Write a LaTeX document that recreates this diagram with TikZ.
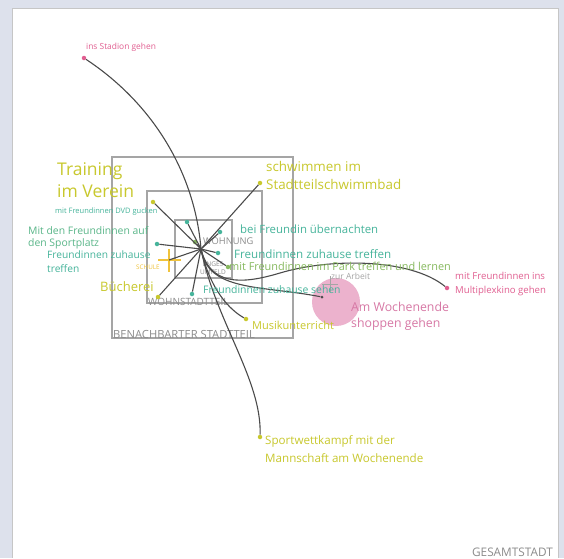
\documentclass[tikz,border=0pt]{standalone}
\usepackage{fontspec}
\setmainfont{Open Sans}
\usetikzlibrary{positioning}
\definecolor{panelblue}{RGB}{221,225,236}
\definecolor{sunyellow}{RGB}{200,200,45}
\definecolor{friendteal}{RGB}{70,180,155}
\definecolor{parkgreen}{RGB}{135,185,95}
\definecolor{kinopink}{RGB}{225,95,145}
\definecolor{shopmauve}{RGB}{215,120,165}
\definecolor{blobpink}{RGB}{236,178,205}
\definecolor{schoolorange}{RGB}{240,195,60}
\definecolor{zonegray}{RGB}{165,165,165}
\definecolor{wirecolor}{RGB}{75,75,75}

\begin{document}
\begin{tikzpicture}[x=1pt, y=-1pt,
  dot/.style={circle, fill, inner sep=0pt, minimum size=4.5pt},
  txt/.style={inner sep=0pt, anchor=west, align=left},
  wire/.style={color=wirecolor, line width=1.1pt},
  zone/.style={draw=zonegray, line width=1.3pt},
  zonetxt/.style={inner sep=0pt, color=zonegray!85!black}]
\useasboundingbox (0,0) rectangle (564,558);
%
\fill[panelblue] (0,0) rectangle (564,558);
\fill[white] (12,8) rectangle (558,558);
\draw[gray!45] (12,558) -- (12,8) -- (558,8) -- (558,558);

%
\draw[zone] (112,157) rectangle (293,338);
\draw[zone] (147,191) rectangle (262,303);
\draw[zone] (175,220) rectangle (232,278);
\node[zonetxt, anchor=south west, font=\fontsize{11.2}{12}\selectfont] (nachbar) at (113,339) {BENACHBARTER STADTTEIL};
\node[zonetxt, anchor=south west, font=\fontsize{10}{11}\selectfont] (wohnst) at (148,306) {WOHNSTADTTEIL};
\node[zonetxt, align=center, font=\fontsize{6.5}{8.5}\selectfont] (umfeld) at (213,268) {ENGES\\UMFELD};
\node[zonetxt, anchor=west, font=\fontsize{9.3}{10}\selectfont] (wohnung) at (203,241) {WOHNUNG};
\node[zonetxt, anchor=south east, font=\fontsize{11.8}{13}\selectfont] (gesamt) at (553,557) {GESAMTSTADT};

%
\fill[blobpink] (336,302) circle (24);
\draw[zonegray, line width=1pt] (322,284) -- (338,284) (330,276) -- (330,292);
\node[txt, color=zonegray, font=\fontsize{8.5}{9}\selectfont] (arbeit) at (331,276) {zur Arbeit};
\draw[schoolorange, line width=2pt] (158,260) -- (181,260) (169,249) -- (169,272);
\node[txt, color=schoolorange, font=\fontsize{6.3}{7}\selectfont] (schule) at (136,267) {SCHULE};

%
\coordinate (hub) at (201,249);
\node[dot, color=kinopink] (stadion) at (84,58) {};
\node[dot, color=sunyellow] (training) at (153,202) {};
\node[dot, color=sunyellow] (schwimm) at (260,183) {};
\node[dot, color=friendteal] (dvd) at (187,222) {};
\node[dot, color=friendteal] (sportplatz) at (157,244) {};
\node[dot, color=parkgreen] (zuhauselinks) at (195,242) {};
\node[dot, color=friendteal] (uebernacht) at (220,232) {};
\node[dot, color=friendteal] (zuhauserechts) at (218,253) {};
\node[dot, color=parkgreen] (park) at (228,267) {};
\node[dot, color=friendteal] (sehen) at (192,294) {};
\node[dot, color=sunyellow] (buecherei) at (158,297) {};
\node[dot, color=sunyellow] (musik) at (246,319) {};
\node[dot, color=kinopink] (kino) at (447,288) {};
\node[dot, color=wirecolor, minimum size=3pt] (shopping) at (322,297) {};
\node[dot, color=sunyellow] (wettkampf) at (260,437) {};
\coordinate (schulkreuz) at (169,260);

%
\foreach \ziel in {training, schwimm, dvd, sportplatz, zuhauselinks, uebernacht, zuhauserechts, park, sehen, buecherei, schulkreuz}
  \draw[wire] (hub) -- (\ziel);
\draw[wire] (hub) .. controls (195,175) and (155,105) .. (stadion);
\draw[wire] (hub) .. controls (215,320) and (262,380) .. (wettkampf);
\draw[wire] (hub) .. controls (210,290) and (230,310) .. (musik);
\draw[wire] (hub) .. controls (210,285) and (240,285) .. (280,273) .. controls (330,258) and (410,258) .. (kino);
\draw[wire] (hub) .. controls (208,292) and (260,285) .. (shopping);

%
\node[txt, color=kinopink, font=\fontsize{8.4}{9}\selectfont] (stadiontxt) at (86,47) {ins Stadion gehen};
\node[txt, color=sunyellow, font=\fontsize{17.5}{22}\selectfont] (trainingtxt) at (57,180) {Training\\im Verein};
\node[txt, color=sunyellow, font=\fontsize{13.4}{18}\selectfont] (schwimmtxt) at (266,175) {schwimmen im\\Stadtteilschwimmbad};
\node[txt, color=friendteal, font=\fontsize{7.5}{8}\selectfont] (dvdtxt) at (55,212) {mit Freundinnen DVD gucken};
\node[txt, color=friendteal!70!parkgreen, font=\fontsize{10.4}{12}\selectfont] (sportplatztxt) at (28,238) {Mit den Freundinnen auf\\den Sportplatz};
\node[txt, color=friendteal, font=\fontsize{10.2}{14}\selectfont] (zuhauselinkstxt) at (47,262) {Freundinnen zuhause\\treffen};
\node[txt, color=sunyellow, font=\fontsize{13}{14}\selectfont] (buechereitxt) at (100,287) {Bücherei};
\node[txt, color=friendteal, font=\fontsize{11.4}{13}\selectfont] (uebernachttxt) at (240,229) {bei Freundin übernachten};
\node[txt, color=friendteal, font=\fontsize{11.6}{13}\selectfont] (zuhauserechtstxt) at (234,254) {Freundinnen zuhause treffen};
\node[txt, color=parkgreen, font=\fontsize{10.9}{12}\selectfont] (parktxt) at (229,266) {mit Freundinnen im Park treffen und lernen};
\node[txt, color=friendteal, font=\fontsize{10.4}{12}\selectfont] (sehentxt) at (203,290) {Freundinnen zuhause sehen};
\node[txt, color=sunyellow, font=\fontsize{11}{12}\selectfont] (musiktxt) at (252,325) {Musikunterricht};
\node[txt, color=kinopink, font=\fontsize{9.6}{14}\selectfont] (kinotxt) at (455,284) {mit Freundinnen ins\\Multiplexkino gehen};
\node[txt, color=shopmauve, font=\fontsize{12.3}{16}\selectfont] (shoppingtxt) at (351,316) {Am Wochenende\\shoppen gehen};
\node[txt, color=sunyellow, font=\fontsize{11.6}{18}\selectfont] (wettkampftxt) at (265,449) {Sportwettkampf mit der\\Mannschaft am Wochenende};

\end{tikzpicture}
\end{document}
